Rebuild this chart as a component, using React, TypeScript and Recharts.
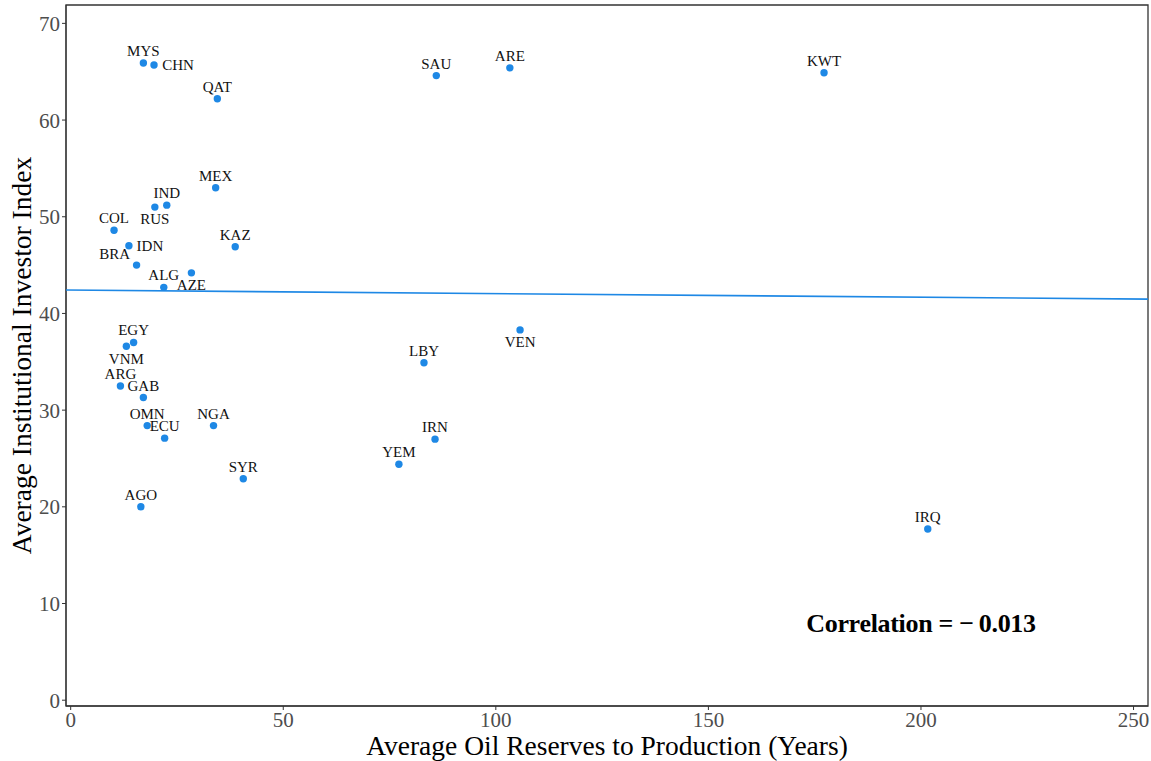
import React from "react";
import {
  ScatterChart,
  Scatter,
  XAxis,
  YAxis,
  ReferenceArea,
  ReferenceDot
} from "recharts";

const countries = [
  "MYS", "CHN", "QAT", "MEX", "IND", "RUS", "COL", "IDN", "BRA", "KAZ",
  "ALG", "AZE", "EGY", "VNM", "ARG", "GAB", "OMN", "ECU", "NGA", "SYR",
  "AGO", "SAU", "ARE", "KWT", "VEN", "LBY", "IRN", "YEM", "IRQ"
];
const reserveYears = [
  17.1, 19.6, 34.5, 34.1, 22.6, 19.8, 10.2, 13.7, 15.5, 38.7,
  21.9, 28.4, 14.8, 13.1, 11.7, 17.1, 18.0, 22.1, 33.6, 40.6,
  16.5, 86.0, 103.3, 177.2, 105.7, 83.1, 85.7, 77.2, 201.6
];
const investorIndex = [
  65.9, 65.7, 62.2, 53.0, 51.2, 51.0, 48.6, 47.0, 45.0, 46.9,
  42.7, 44.2, 37.0, 36.6, 32.5, 31.3, 28.4, 27.1, 28.4, 22.9,
  20.0, 64.6, 65.4, 64.9, 38.3, 34.9, 27.0, 24.4, 17.7
];
const xTicks = [0, 50, 100, 150, 200, 250];
const yTicks = [0, 10, 20, 30, 40, 50, 60, 70];
const fitIntercept = 42.42;
const fitSlope = -0.0037;
const correlation = "Correlation = \u2212\u20090.013";

const X_DOMAIN: [number, number] = [-1.1, 253.4];
const Y_DOMAIN: [number, number] = [-0.6, 71.9];

// label placement (text centre relative to the point), default is above
const labelOffsets: Record<string, [number, number]> = {
  CHN: [24, 0],
  IDN: [21, 0],
  BRA: [-22, -11],
  RUS: [0, 12],
  AZE: [0, 12],
  VNM: [0, 13],
  VEN: [0, 12]
};

const points = countries.map((code, i) => ({
  code,
  x: reserveYears[i],
  y: investorIndex[i]
}));

const fitLine = X_DOMAIN.map((x) => ({ x, y: fitIntercept + fitSlope * x }));

const BLUE = "#1E88E5";
const FONT = "'Liberation Serif', 'Times New Roman', serif";

const PointShape = (props: any) => {
  const { cx, cy, payload } = props;
  const [dx, dy] = labelOffsets[payload.code] || [0, -12];
  return (
    <g>
      <circle cx={cx} cy={cy} r={3.7} fill={BLUE} />
      <text
        x={cx + dx}
        y={cy + dy}
        textAnchor="middle"
        dominantBaseline="central"
        fontFamily={FONT}
        fontSize={15}
        fill="#111"
      >
        {payload.code}
      </text>
    </g>
  );
};

const App: React.FC = () => {
  return (
    <div style={{ position: "absolute", left: 0, top: 0, background: "#fff" }}>
      <ScatterChart
        width={1151}
        height={761}
        margin={{ top: 5, right: 3, bottom: 0, left: 0 }}
      >
        <XAxis
          type="number"
          dataKey="x"
          domain={X_DOMAIN}
          ticks={xTicks}
          allowDataOverflow
          height={55}
          tickSize={4}
          tickMargin={2}
          stroke="#333"
          tick={{ fill: "#4d4d4d", fontSize: 21, fontFamily: FONT }}
          label={{
            value: "Average Oil Reserves to Production (Years)",
            position: "center",
            dy: 12,
            style: { fill: "#000", fontSize: 27.5, fontFamily: FONT }
          }}
        />
        <YAxis
          type="number"
          dataKey="y"
          domain={Y_DOMAIN}
          ticks={yTicks}
          allowDataOverflow
          width={66}
          tickSize={4}
          tickMargin={2}
          stroke="#333"
          tick={{ fill: "#4d4d4d", fontSize: 21, fontFamily: FONT }}
          label={{
            value: "Average Institutional Investor Index",
            angle: -90,
            position: "center",
            dx: -12,
            style: { fill: "#000", fontSize: 27.5, fontFamily: FONT }
          }}
        />
        <ReferenceArea
          x1={X_DOMAIN[0]}
          x2={X_DOMAIN[1]}
          y1={Y_DOMAIN[0]}
          y2={Y_DOMAIN[1]}
          fill="none"
          stroke="#333"
          strokeWidth={1.3}
        />
        <Scatter
          data={fitLine}
          line={{ stroke: BLUE, strokeWidth: 1.6 }}
          shape={() => null}
          isAnimationActive={false}
        />
        <Scatter
          data={points}
          shape={<PointShape />}
          isAnimationActive={false}
        />
        <ReferenceDot
          x={200}
          y={8}
          r={0}
          fill="none"
          stroke="none"
          label={{
            value: correlation,
            position: "center",
            style: { fill: "#000", fontSize: 26, fontWeight: "bold", fontFamily: FONT, letterSpacing: -0.3 }
          }}
        />
      </ScatterChart>
    </div>
  );
};

export default App;
